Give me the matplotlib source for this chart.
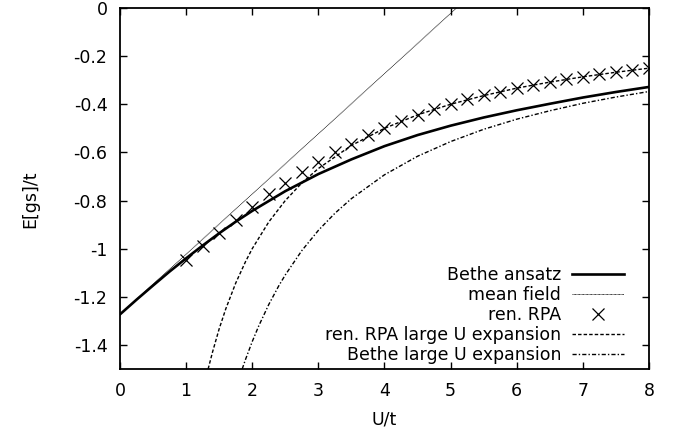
import matplotlib
matplotlib.use('Agg')
import matplotlib.pyplot as plt
from matplotlib.ticker import FormatStrFormatter, MultipleLocator

plt.rcParams['font.family'] = ['DejaVu Sans']
plt.rcParams['font.size'] = 12.5

# Bethe ansatz ground state energy
bethe_u = [0, 0.25, 0.5, 0.75, 1.0, 1.25, 1.5, 1.75, 2.0, 2.5, 3.0, 3.5, 4.0, 4.5, 5.0, 5.5, 6.0, 6.5, 7.0, 7.5, 8.0]
bethe_e = [-1.273, -1.212, -1.153, -1.095, -1.040, -0.987, -0.936, -0.888, -0.843, -0.761, -0.690, -0.629,
           -0.574, -0.528, -0.489, -0.455, -0.425, -0.398, -0.372, -0.349, -0.328]

# mean field
mf_u = [0, 5.09]
mf_e = [-1.273, 0.0]

# ren. RPA points
rpa_u = [1.0, 1.25, 1.5, 1.75, 2.0, 2.25, 2.5, 2.75, 3.0, 3.25, 3.5, 3.75, 4.0, 4.25, 4.5, 4.75, 5.0,
         5.25, 5.5, 5.75, 6.0, 6.25, 6.5, 6.75, 7.0, 7.25, 7.5, 7.75, 8.0]
rpa_e = [-1.047, -0.989, -0.936, -0.881, -0.825, -0.774, -0.726, -0.683, -0.638, -0.599, -0.564, -0.529,
         -0.497, -0.469, -0.443, -0.420, -0.399, -0.380, -0.363, -0.347, -0.332, -0.319, -0.307, -0.296,
         -0.285, -0.275, -0.266, -0.258, -0.250]

# ren. RPA large U expansion
rpa_lu_u = [1.333, 1.4, 1.5, 1.6, 1.75, 1.9, 2.0, 2.25, 2.5, 2.75, 3.0, 3.5, 4.0, 4.5, 5.0, 5.5, 6.0, 6.5, 7.0, 7.5, 8.0]
rpa_lu_e = [-1.500, -1.429, -1.333, -1.250, -1.143, -1.053, -1.000, -0.889, -0.800, -0.727, -0.667, -0.571,
            -0.500, -0.444, -0.400, -0.364, -0.333, -0.308, -0.286, -0.267, -0.250]

# Bethe large U expansion
bethe_lu_u = [1.848, 1.9, 2.0, 2.1, 2.25, 2.4, 2.5, 2.75, 3.0, 3.25, 3.5, 4.0, 4.5, 5.0, 5.5, 6.0, 6.5, 7.0, 7.5, 8.0]
bethe_lu_e = [-1.500, -1.459, -1.386, -1.320, -1.232, -1.155, -1.109, -1.008, -0.924, -0.853, -0.792, -0.693,
              -0.616, -0.555, -0.504, -0.462, -0.427, -0.396, -0.370, -0.347]

fig = plt.figure(figsize=(6.73, 4.37), dpi=100)
ax = fig.add_axes([0.1783, 0.1556, 0.786, 0.8261])

ax.plot(bethe_u, bethe_e, color='black', lw=1.9, label='Bethe ansatz')
ax.plot(mf_u, mf_e, color='black', lw=0.6, ls=(0, (1, 0.6)), label='mean field')
ax.plot(rpa_u, rpa_e, ls='none', marker='x', ms=9, mew=0.9, color='black', label='ren. RPA')
ax.plot(rpa_lu_u, rpa_lu_e, color='black', lw=1.0, ls=(0, (2.5, 1.5)), label='ren. RPA large U expansion')
ax.plot(bethe_lu_u, bethe_lu_e, color='black', lw=1.0, ls=(0, (3, 1.5, 1, 1.5)), label='Bethe large U expansion')

ax.set_xlim(0, 8)
ax.set_ylim(-1.5, 0)
ax.xaxis.set_major_locator(MultipleLocator(1))
ax.set_yticks([0, -0.2, -0.4, -0.6, -0.8, -1.0, -1.2, -1.4])
ax.yaxis.set_major_formatter(FormatStrFormatter('%g'))
ax.tick_params(direction='in', top=True, right=True, length=5, width=1, pad=9)
for s in ax.spines.values():
    s.set_linewidth(1.3)

ax.set_xlabel('U/t')
ax.set_ylabel('E[gs]/t')
ax.xaxis.set_label_coords(0.5, -0.115)
ax.yaxis.set_label_coords(-0.153, 0.47)

leg = ax.legend(loc='lower right', markerfirst=False, frameon=False, handlelength=3.0,
                labelspacing=0.12, borderaxespad=0.3, handletextpad=0.6, bbox_to_anchor=(0.975, -0.02))

fig.savefig('out.png', dpi=100)
